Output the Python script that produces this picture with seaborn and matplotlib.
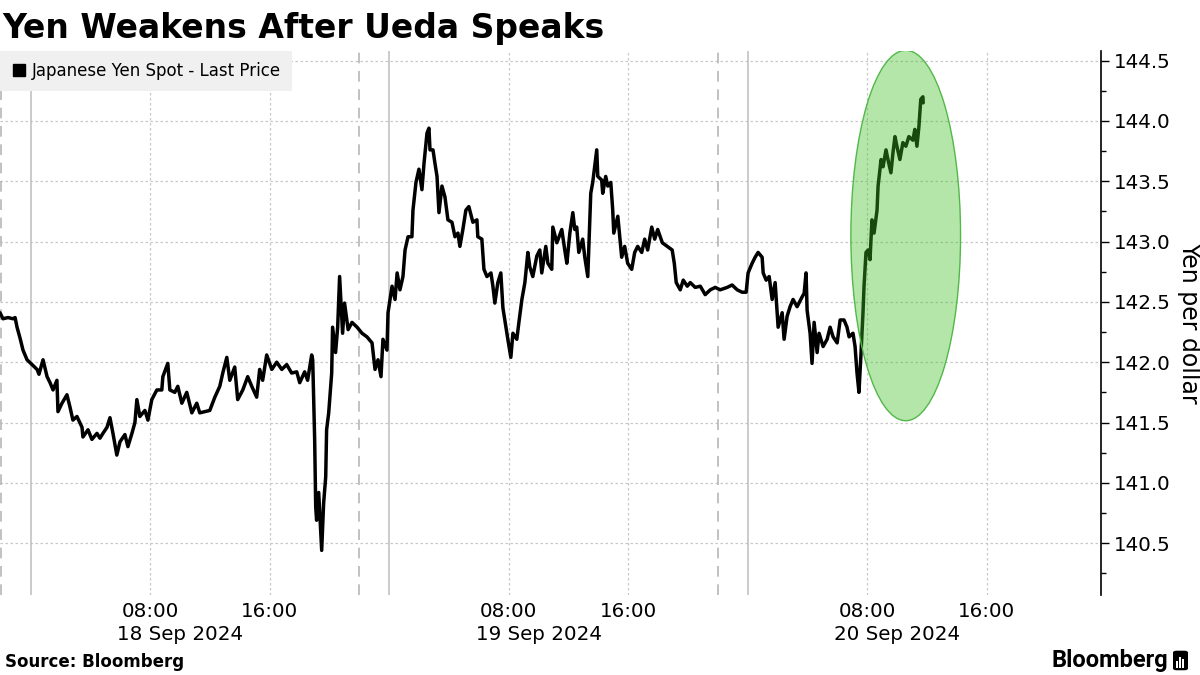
import numpy as np
import pandas as pd
import matplotlib
matplotlib.use("Agg")
import matplotlib.pyplot as plt
import matplotlib.dates as mdates
from matplotlib.patches import Ellipse, FancyBboxPatch, Rectangle
from matplotlib.lines import Line2D
from matplotlib.ticker import MultipleLocator, FormatStrFormatter
import seaborn as sns

# hours after 18 Sep 2024 00:00
START = pd.Timestamp("2024-09-18 00:00")
HOURS = [
    -2.05, -1.85, -1.51, -1.18, -1.04, -0.91, -0.71, -0.51, -0.24, 0.09,
    0.43, 0.56, 0.83, 1.10, 1.30, 1.50, 1.76, 1.83, 2.10, 2.43,
    2.63, 2.83, 3.10, 3.44, 3.50, 3.84, 4.10, 4.44, 4.64, 4.84,
    5.11, 5.31, 5.51, 5.77, 5.98, 6.31, 6.51, 6.78, 6.98, 7.11,
    7.31, 7.65, 7.85, 8.11, 8.45, 8.78, 8.85, 9.18, 9.32, 9.65,
    9.85, 10.12, 10.45, 10.79, 11.12, 11.32, 11.99, 12.33, 12.66, 12.86,
    13.13, 13.33, 13.66, 13.86, 14.20, 14.53, 14.80, 15.13, 15.33, 15.53,
    15.80, 16.14, 16.47, 16.81, 17.14, 17.47, 17.81, 18.01, 18.34, 18.54,
    18.81, 18.88, 19.01, 19.08, 19.14, 19.28, 19.41, 19.48, 19.61, 19.75,
    19.81, 19.95, 20.15, 20.21, 20.41, 20.55, 20.68, 20.88, 21.01, 21.25,
    21.51, 21.85, 22.18, 22.51, 22.85, 23.05, 23.25, 23.45, 23.58, 23.85,
    23.92, 24.19, 24.39, 24.53, 24.72, 24.92, 25.06, 25.26, 25.52, 25.59,
    25.79, 25.99, 26.19, 26.33, 26.53, 26.66, 26.73, 26.93, 27.06, 27.20,
    27.33, 27.53, 27.73, 27.93, 28.20, 28.40, 28.60, 28.73, 28.93, 29.13,
    29.33, 29.60, 29.87, 29.93, 30.20, 30.34, 30.54, 30.81, 30.94, 31.07,
    31.27, 31.47, 31.61, 31.81, 31.94, 32.14, 32.28, 32.54, 32.68, 32.88,
    33.08, 33.28, 33.41, 33.61, 33.88, 34.08, 34.21, 34.48, 34.62, 34.88,
    34.95, 35.22, 35.55, 35.75, 35.89, 36.09, 36.29, 36.42, 36.55, 36.69,
    36.95, 37.09, 37.29, 37.49, 37.62, 37.89, 37.96, 38.22, 38.29, 38.49,
    38.63, 38.83, 38.96, 39.03, 39.30, 39.56, 39.76, 39.96, 40.23, 40.43,
    40.63, 40.90, 41.10, 41.30, 41.57, 41.77, 41.97, 42.28, 42.61, 42.94,
    43.08, 43.21, 43.48, 43.68, 43.95, 44.15, 44.48, 44.82, 45.15, 45.49,
    45.82, 46.15, 46.62, 46.95, 47.29, 47.62, 47.89, 48.02, 48.29, 48.49,
    48.69, 48.96, 49.03, 49.23, 49.43, 49.63, 49.83, 50.03, 50.30, 50.43,
    50.63, 50.83, 51.03, 51.30, 51.63, 51.77, 51.90, 51.97, 52.17, 52.30,
    52.44, 52.64, 52.77, 53.04, 53.31, 53.51, 53.71, 53.98, 54.18, 54.44,
    54.64, 54.78, 55.04, 55.18, 55.31, 55.44, 55.58, 55.71, 55.78, 55.91,
    56.05, 56.18, 56.31, 56.45, 56.65, 56.72, 56.92, 57.05, 57.25, 57.38,
    57.58, 57.72, 57.85, 57.98, 58.18, 58.38, 58.58, 58.78, 59.05, 59.18,
    59.32, 59.45, 59.58, 59.72, 59.74,
]
PRICE = [
    142.41, 142.36, 142.37, 142.36, 142.37, 142.29, 142.20, 142.10, 142.02, 141.98,
    141.94, 141.90, 142.02, 141.88, 141.83, 141.77, 141.85, 141.59, 141.66, 141.73,
    141.63, 141.52, 141.55, 141.46, 141.38, 141.44, 141.36, 141.41, 141.37, 141.41,
    141.46, 141.54, 141.41, 141.23, 141.34, 141.40, 141.30, 141.41, 141.50, 141.69,
    141.55, 141.60, 141.52, 141.69, 141.77, 141.77, 141.88, 141.99, 141.77, 141.75,
    141.80, 141.66, 141.75, 141.58, 141.66, 141.58, 141.60, 141.71, 141.80, 141.91,
    142.04, 141.85, 141.96, 141.69, 141.77, 141.88, 141.80, 141.71, 141.94, 141.85,
    142.06, 141.94, 142.00, 141.94, 141.98, 141.91, 141.92, 141.83, 141.92, 141.85,
    142.06, 142.02, 141.36, 140.80, 140.69, 140.92, 140.61, 140.44, 140.83, 141.05,
    141.44, 141.58, 141.91, 142.29, 142.08, 142.29, 142.71, 142.24, 142.49, 142.27,
    142.33, 142.29, 142.24, 142.21, 142.16, 141.94, 142.02, 141.88, 142.19, 142.10,
    142.41, 142.63, 142.52, 142.74, 142.60, 142.71, 142.93, 143.04, 143.04, 143.26,
    143.49, 143.60, 143.43, 143.65, 143.90, 143.94, 143.76, 143.76, 143.65, 143.54,
    143.24, 143.46, 143.37, 143.18, 143.16, 143.04, 143.07, 142.96, 143.10, 143.26,
    143.29, 143.16, 143.18, 143.04, 143.02, 142.77, 142.71, 142.74, 142.63, 142.49,
    142.66, 142.74, 142.45, 142.29, 142.19, 142.04, 142.24, 142.19, 142.33, 142.52,
    142.66, 142.91, 142.79, 142.71, 142.88, 142.93, 142.74, 142.96, 142.82, 142.77,
    143.12, 142.99, 143.10, 142.93, 142.82, 143.07, 143.24, 143.10, 143.12, 142.91,
    143.02, 142.87, 142.71, 143.40, 143.49, 143.76, 143.54, 143.51, 143.40, 143.54,
    143.46, 143.49, 143.26, 143.07, 143.21, 142.87, 142.96, 142.82, 142.77, 142.91,
    142.96, 142.91, 143.02, 142.93, 143.12, 143.02, 143.10, 142.99, 142.96, 142.93,
    142.82, 142.66, 142.60, 142.68, 142.63, 142.66, 142.62, 142.63, 142.56, 142.60,
    142.62, 142.60, 142.62, 142.64, 142.60, 142.58, 142.58, 142.74, 142.82, 142.87,
    142.91, 142.87, 142.74, 142.68, 142.71, 142.52, 142.66, 142.29, 142.41, 142.19,
    142.38, 142.46, 142.52, 142.46, 142.54, 142.57, 142.74, 142.43, 142.24, 141.99,
    142.33, 142.08, 142.24, 142.13, 142.19, 142.29, 142.21, 142.16, 142.35, 142.35,
    142.29, 142.21, 142.24, 142.13, 141.91, 141.75, 142.08, 142.41, 142.63, 142.91,
    142.93, 142.85, 143.18, 143.07, 143.26, 143.46, 143.68, 143.62, 143.76, 143.68,
    143.57, 143.74, 143.87, 143.79, 143.68, 143.82, 143.79, 143.87, 143.84, 143.93,
    143.79, 143.95, 144.18, 144.20, 144.15,
]
SERIES = "Japanese Yen Spot - Last Price"
DAYS = ["18 Sep 2024", "19 Sep 2024", "20 Sep 2024"]

sns.set_style("white")
plt.rcParams["font.family"] = ["DejaVu Sans"]
plt.rcParams["text.color"] = "black"
plt.rcParams["axes.labelcolor"] = "black"
plt.rcParams["xtick.color"] = "black"
plt.rcParams["ytick.color"] = "black"

df = pd.DataFrame({"time": START + pd.to_timedelta(HOURS, unit="h"), "price": PRICE})


def hrs(h):
    return START + pd.Timedelta(hours=h)


fig = plt.figure(figsize=(12, 6.75), dpi=100)
ax = fig.add_axes([0.0, 0.1185, 0.9175, 0.806])

sns.lineplot(data=df, x="time", y="price", color="black", linewidth=2.5,
             estimator=None, ax=ax, zorder=3)

ax.set_xlim(hrs(-2.05), hrs(71.64))
ax.set_ylim(140.07, 144.58)

# session lines: solid at midnight, dashed at 22:00
for d in range(3):
    ax.axvline(hrs(24 * d), color="#bdbdbd", linewidth=1.1, zorder=1)
    ax.axvline(hrs(24 * d - 2), color="#b0b0b0", linewidth=1.1,
               linestyle=(0, (7, 5)), zorder=1)

ax.xaxis.set_major_locator(mdates.HourLocator(byhour=[8, 16]))
ax.xaxis.set_major_formatter(mdates.DateFormatter("%H:%M"))
ax.grid(axis="x", color="#c8c8c8", linestyle=(0, (2, 2)), linewidth=0.9)
ax.grid(axis="y", which="major", color="#c8c8c8", linestyle=(0, (2, 2)), linewidth=0.9)

ax.yaxis.tick_right()
ax.yaxis.set_label_position("right")
ax.yaxis.set_major_locator(MultipleLocator(0.5))
ax.yaxis.set_minor_locator(MultipleLocator(0.25))
ax.yaxis.set_major_formatter(FormatStrFormatter("%.1f"))
ax.tick_params(axis="y", which="major", length=6, width=1, labelsize=14.3,
               pad=3, right=True, left=False, colors="black")
ax.tick_params(axis="y", which="minor", length=3.5, width=1, right=True, left=False,
               colors="black")
ax.tick_params(axis="x", length=0, pad=5, labelsize=14.3, colors="black")

for s in ["left", "top", "bottom"]:
    ax.spines[s].set_visible(False)
ax.spines["right"].set_color("black")
ax.spines["right"].set_linewidth(1.2)

ax.set_xlabel("")
ax.set_ylabel("Yen per dollar", rotation=270, fontsize=17, color="black")
ax.yaxis.set_label_coords(1.0799, 0.5)
ax.yaxis.label.set_va("center")
ax.yaxis.label.set_ha("center")

for i, d in enumerate(DAYS):
    ax.text(mdates.date2num(hrs(24 * i + 10)), -0.0717, d, fontsize=14.3,
            ha="center", va="center", transform=ax.get_xaxis_transform())

# highlight around the move after Ueda spoke
ax.add_patch(Ellipse((mdates.date2num(hrs(58.57)), 143.05), width=7.34 / 24, height=3.07,
                     facecolor=(0.25, 0.75, 0.15, 0.39), edgecolor="#52b848",
                     linewidth=1, zorder=4))

handle = Line2D([], [], marker="s", color="black", linestyle="none", markersize=9)
leg = ax.legend([handle], [SERIES], loc="upper left", bbox_to_anchor=(0, 1),
                borderaxespad=0, frameon=True, fancybox=False, facecolor="#f0f0f0",
                edgecolor="none", framealpha=1, fontsize=12, handletextpad=0.25,
                handlelength=1, borderpad=0.65)
leg.set_zorder(5)

fig.text(0.002, 0.9444, "Yen Weakens After Ueda Speaks", fontsize=23.8,
         fontweight="bold", ha="left", va="baseline", color="black")
fig.text(0.004, 0.0119, "Source: Bloomberg", fontsize=12, fontweight="bold",
         ha="left", va="baseline", color="black")
fig.text(0.9733, 0.0119, "Bloomberg", family=["Roboto", "DejaVu Sans"], fontsize=17,
         fontweight="bold", ha="right", va="baseline", color="black")

# small logo mark
fig.patches.append(FancyBboxPatch((0.9775, 0.007), 0.0125, 0.029,
                                  boxstyle="round,pad=0,rounding_size=0.003",
                                  transform=fig.transFigure, facecolor="black",
                                  edgecolor="none"))
for bx, bh in [(0.9800, 0.010), (0.9825, 0.016), (0.9850, 0.012)]:
    fig.patches.append(Rectangle((bx, 0.011), 0.0013, bh, transform=fig.transFigure,
                                 facecolor="white", edgecolor="none"))

fig.savefig("out.png", dpi=100)
